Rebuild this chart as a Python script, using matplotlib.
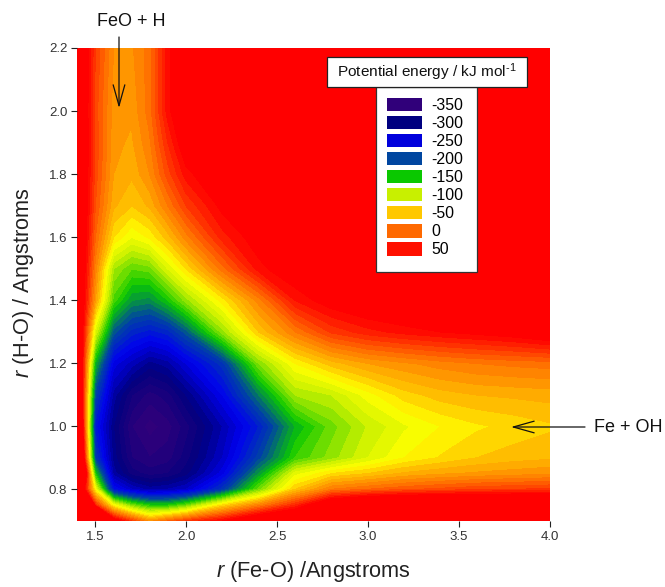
import matplotlib
matplotlib.use("Agg")
import numpy as np
import matplotlib.pyplot as plt
from matplotlib.colors import LinearSegmentedColormap, Normalize
from matplotlib.patches import Patch, Rectangle

plt.rcParams['font.family'] = ['Liberation Sans', 'DejaVu Sans']
plt.rcParams['mathtext.fontset'] = 'custom'
plt.rcParams['mathtext.rm'] = 'Liberation Sans'
plt.rcParams['mathtext.it'] = 'Liberation Sans:italic'

# grid
r_feo = [1.4, 1.5, 1.6, 1.7, 1.8, 1.9, 2.0, 2.2, 2.4, 2.6, 2.8, 3.0, 3.2, 3.4, 3.6, 3.8, 4.0]
r_ho = [0.7, 0.75, 0.8, 0.85, 0.9, 1.0, 1.1, 1.2, 1.3, 1.4, 1.5, 1.6, 1.7, 1.8, 1.9, 2.0, 2.2]

# energy in kJ/mol, one list per r(H-O)
e_070 = [600, 350, 70, 20, -25, 0, 20, 50, 90, 110, 130, 140, 150, 150, 150, 150, 150]
e_075 = [400, 30, -75, -125, -150, -150, -130, -60, -15, 30, 90, 110, 120, 120, 120, 120, 120]
e_080 = [133, -75, -240, -270, -285, -280, -270, -215, -125, -50, -10, 0, 8, 13, 18, 20, 22]
e_085 = [250, -150, -285, -315, -325, -320, -305, -255, -170, -85, -60, -50, -38, -32, -28, -25, -22]
e_090 = [200, -210, -295, -330, -340, -335, -315, -270, -205, -140, -115, -90, -70, -59, -50, -45, -42]
e_100 = [170, -235, -300, -340, -355, -345, -325, -280, -230, -160, -125, -99, -82, -70, -62, -57, -52]
e_110 = [150, -205, -285, -320, -335, -325, -300, -250, -180, -110, -100, -75, -55, -45, -40, -38, -36]
e_120 = [130, -160, -255, -275, -295, -285, -260, -215, -120, -70, -45, -30, -22, -15, -10, -7, -5]
e_130 = [110, -90, -195, -225, -235, -225, -195, -115, -50, -10, 22, 36, 44, 50, 55, 61, 71]
e_140 = [100, -30, -135, -170, -175, -150, -115, -65, -15, 40, 60, 70, 75, 80, 85, 85, 85]
e_150 = [100, -15, -110, -130, -125, -90, -60, -5, 45, 65, 75, 85, 90, 95, 95, 95, 95]
e_160 = [100, 0, -60, -80, -68, -45, -15, 35, 60, 75, 85, 95, 100, 105, 105, 105, 105]
e_170 = [100, 10, -38, -50, -38, -10, 20, 55, 75, 90, 95, 100, 105, 105, 105, 105, 105]
e_180 = [100, 15, -30, -38, -20, 15, 45, 70, 85, 95, 100, 105, 110, 110, 110, 110, 110]
e_190 = [100, 18, -27, -32, -12, 30, 65, 85, 95, 105, 110, 110, 110, 110, 110, 110, 110]
e_200 = [100, 15, -25, -28, -5, 45, 75, 90, 100, 105, 110, 115, 115, 115, 115, 115, 115]
e_220 = [100, 20, -20, -22, -5, 45, 80, 95, 105, 110, 115, 115, 115, 115, 115, 115, 115]

legend_values = [-350, -300, -250, -200, -150, -100, -50, 0, 50]
legend_colors = ['#30007a', '#000080', '#0000dc', '#0046a0', '#0ac800', '#c8f000', '#ffc800', '#ff6900', '#ff1000']

x_ticks = [1.5, 2.0, 2.5, 3.0, 3.5, 4.0]
y_ticks = [0.8, 1.0, 1.2, 1.4, 1.6, 1.8, 2.0, 2.2]

energy = np.array([e_070, e_075, e_080, e_085, e_090, e_100, e_110, e_120, e_130,
                   e_140, e_150, e_160, e_170, e_180, e_190, e_200, e_220])

W, H = 665, 587
def fx(px):
    return px / W
def fy(py):
    return 1 - py / H

fig = plt.figure(figsize=(W / 100, H / 100), dpi=100)
ax = fig.add_axes([fx(77), fy(521), (550 - 77) / W, (521 - 48) / H])

# colour ramp: legend colours plus the bright yellow that sits between -100 and -50
nodes = [(-350, '#30007a'), (-300, '#000080'), (-250, '#0000f0'), (-200, '#0046a0'),
         (-150, '#0ac800'), (-100, '#c8f000'), (-70, '#ffff00'), (-50, '#ffc800'),
         (0, '#ff6900'), (50, '#ff0000')]
cmap = LinearSegmentedColormap.from_list(
    'pes', [((v + 350) / 400, c) for v, c in nodes], N=256)
cmap.set_over('#ff0000')
cmap.set_under('#30007a')

levels = np.arange(-360, 51, 10)
cs = ax.contourf(r_feo, r_ho, energy, levels=levels, cmap=cmap,
                 norm=Normalize(-350, 50), extend='both')
cs.set_edgecolor('face')
cs.set_linewidth(0.3)

ax.set_xlim(1.4, 4.0)
ax.set_ylim(0.7, 2.2)
ax.set_xticks(x_ticks, [f'{t:.1f}' for t in x_ticks])
ax.set_yticks(y_ticks, [f'{t:.1f}' for t in y_ticks])
ax.tick_params(length=4, width=0.8, labelsize=9.5, color='#222222', labelcolor='#333333', pad=3)
for s in ax.spines.values():
    s.set_visible(False)

fig.text(fx(313), fy(572), r'$\mathit{r}$ (Fe-O) /Angstroms', ha='center', va='center', fontsize=15.7, color='#222222')
fig.text(fx(24), fy(283), r'$\mathit{r}$ (H-O) / Angstroms', ha='center', va='center', rotation=90, fontsize=15.7, color='#222222')

# legend body, frame drawn apart so its width can be set
ax.add_patch(Rectangle((fx(376), fy(272)), 101 / W, 185 / H, transform=fig.transFigure,
                       facecolor='white', edgecolor='#333333', linewidth=0.9,
                       clip_on=False, zorder=4))
handles = [Patch(facecolor=c, edgecolor='none', label=str(v))
           for v, c in zip(legend_values, legend_colors)]
leg = ax.legend(handles=handles, loc='upper left',
                bbox_to_anchor=(fx(376), fy(87)), bbox_transform=fig.transFigure,
                fontsize=11.4, frameon=False, borderpad=0.7, borderaxespad=0,
                handlelength=2.2, handleheight=0.9, handletextpad=0.6,
                labelspacing=0.19)

# legend title box
fig.add_artist(Rectangle((fx(327), fy(87)), 200 / W, 30 / H, transform=fig.transFigure,
                         facecolor='white', edgecolor='#222222', linewidth=0.9, zorder=5))
fig.text(fx(427), fy(72), 'Potential energy / kJ mol$^{\\mathregular{\u20101}}$', ha='center', va='center',
         fontsize=11.1, color='#111111', zorder=6)

# channel labels
fig.text(fx(131), fy(22), 'FeO + H', ha='center', va='center', fontsize=13, color='#111111')
fig.text(fx(594), fy(427), 'Fe + OH', ha='left', va='center', fontsize=13, color='#111111')
arrow = dict(arrowstyle='->,head_length=1.5,head_width=0.42', color='#111111', lw=0.9, shrinkA=0, shrinkB=0)
ax.annotate('', xy=(fx(119), fy(108)), xytext=(fx(119), fy(37)), xycoords='figure fraction',
            textcoords='figure fraction', arrowprops=arrow, annotation_clip=False)
ax.annotate('', xy=(fx(511), fy(427)), xytext=(fx(585), fy(427)), xycoords='figure fraction',
            textcoords='figure fraction', arrowprops=arrow, annotation_clip=False)

fig.savefig('out.png', dpi=100)
